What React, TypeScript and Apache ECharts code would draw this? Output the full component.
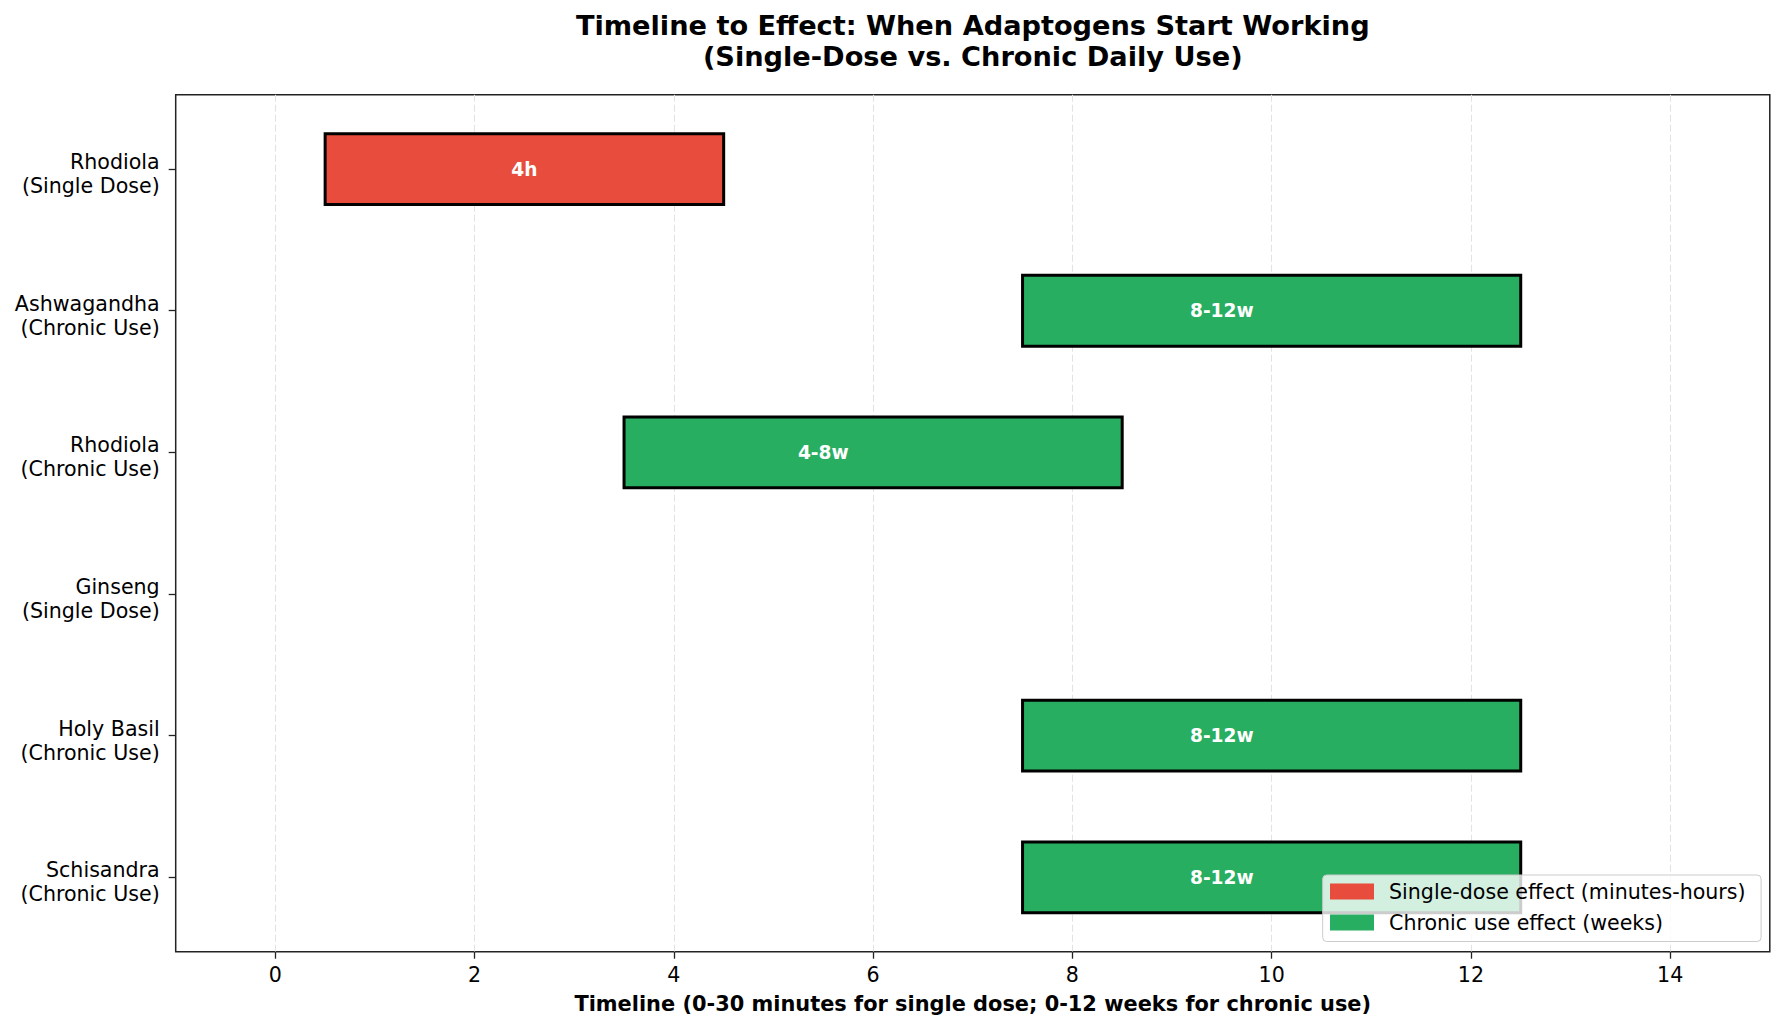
import React, { useEffect, useRef } from "react";
import * as echarts from "echarts";

// Rows, top to bottom
const herbs = [
  "Rhodiola\n(Single Dose)",
  "Ashwagandha\n(Chronic Use)",
  "Rhodiola\n(Chronic Use)",
  "Ginseng\n(Single Dose)",
  "Holy Basil\n(Chronic Use)",
  "Schisandra\n(Chronic Use)",
];
const useKind = ["single", "chronic", "chronic", "single", "chronic", "chronic"];
const onsetStart: (number | null)[] = [0.5, 7.5, 3.5, null, 7.5, 7.5];
const onsetEnd: (number | null)[] = [4.5, 12.5, 8.5, null, 12.5, 12.5];
const barLabels = ["4h", "8-12w", "4-8w", "", "8-12w", "8-12w"];
const labelAt: (number | null)[] = [2.5, 9.5, 5.5, null, 9.5, 9.5];
const xTicks = [0, 2, 4, 6, 8, 10, 12, 14];

const SINGLE_NAME = "Single-dose effect (minutes-hours)";
const CHRONIC_NAME = "Chronic use effect (weeks)";
const RED = "#E74C3C";
const GREEN = "#27AE60";
const FONT = "DejaVu Sans";
const BAR_HALF = 0.25;

function rowsFor(kind: string) {
  const rows: (number | string)[][] = [];
  herbs.forEach((_, i) => {
    const s = onsetStart[i];
    const e = onsetEnd[i];
    const l = labelAt[i];
    if (useKind[i] === kind && s !== null && e !== null && l !== null) {
      rows.push([i, s, e, l]);
    }
  });
  return rows;
}

function makeRender(color: string) {
  return (params: any, api: any) => {
    const y = api.value(0) as number;
    const s = api.value(1) as number;
    const e = api.value(2) as number;
    const l = api.value(3) as number;
    const a = api.coord([s, y - BAR_HALF]);
    const b = api.coord([e, y + BAR_HALF]);
    const c = api.coord([l, y]);
    const x0 = Math.min(a[0], b[0]);
    const y0 = Math.min(a[1], b[1]);
    const w = Math.abs(b[0] - a[0]);
    const h = Math.abs(b[1] - a[1]);
    return {
      type: "group",
      children: [
        {
          type: "rect",
          shape: { x: x0, y: y0, width: w, height: h },
          style: { fill: color, stroke: "#000000", lineWidth: 3 },
        },
        {
          type: "text",
          x: c[0],
          y: c[1],
          style: {
            text: barLabels[y],
            fill: "#ffffff",
            font: `bold 18.6px '${FONT}'`,
            align: "center",
            verticalAlign: "middle",
          },
        },
      ],
    };
  };
}

// Two-line row label; a thin spacer line on top lowers the block slightly
function rowLabel(v: number) {
  const name = herbs[Math.round(v)];
  if (!name) return "";
  const lines = name.split("\n").map((t) => `{t|${t}}`);
  return ["{gap| }", ...lines].join("\n");
}

export default function App() {
  const ref = useRef<HTMLDivElement>(null);

  useEffect(() => {
    if (!ref.current) return;
    const chart = echarts.init(ref.current, undefined, { renderer: "svg" });
    const gridLeft = 175.7;
    const gridRight = 1769.8;
    const gridTop = 94.7;
    const gridBottom = 951.7;

    chart.setOption({
      animation: false,
      backgroundColor: "#ffffff",
      textStyle: { fontFamily: FONT },
      graphic: [
        {
          type: "text",
          x: (gridLeft + gridRight) / 2,
          y: 40.5,
          style: {
            text: "Timeline to Effect: When Adaptogens Start Working\n(Single-Dose vs. Chronic Daily Use)",
            font: `bold 27.2px '${FONT}'`,
            fill: "#000000",
            align: "center",
            verticalAlign: "middle",
            lineHeight: 31,
          },
        },
      ],
      grid: {
        left: gridLeft,
        top: gridTop,
        width: gridRight - gridLeft,
        height: gridBottom - gridTop,
        show: true,
        borderColor: "#222222",
        borderWidth: 1.5,
        backgroundColor: "transparent",
      },
      legend: {
        orient: "vertical",
        left: 1322.7,
        top: 875,
        padding: [6, 15.5, 8.4, 7.3],
        itemWidth: 44,
        itemHeight: 16,
        itemGap: 10.1,
        icon: "rect",
        backgroundColor: "rgba(255,255,255,0.8)",
        borderColor: "#cccccc",
        borderWidth: 1,
        borderRadius: 4,
        textStyle: {
          fontFamily: FONT,
          fontSize: 20.6,
          color: "#000000",
          padding: [0, 0, 0, 10],
        },
        data: [
          { name: SINGLE_NAME, itemStyle: { color: RED } },
          { name: CHRONIC_NAME, itemStyle: { color: GREEN } },
        ],
      },
      xAxis: {
        type: "value",
        min: -1,
        max: 15,
        splitNumber: 8,
        axisLine: { show: false, onZero: false },
        axisTick: {
          show: true,
          customValues: xTicks,
          length: 7,
          lineStyle: { color: "#222222", width: 1.3 },
        },
        axisLabel: {
          customValues: xTicks,
          fontFamily: FONT,
          fontSize: 20.6,
          color: "#000000",
          margin: 13,
        },
        splitLine: {
          show: true,
          lineStyle: { color: "#e3e3e3", type: [7, 3], width: 1.1 },
        },
        name: "Timeline (0-30 minutes for single dose; 0-12 weeks for chronic use)",
        nameLocation: "middle",
        nameGap: 42,
        nameTextStyle: {
          fontFamily: FONT,
          fontSize: 20.9,
          fontWeight: "bold",
          color: "#000000",
        },
      },
      yAxis: {
        type: "value",
        inverse: true,
        min: -0.525,
        max: 5.525,
        axisLine: { show: false, onZero: false },
        splitLine: { show: false },
        axisTick: {
          show: true,
          customValues: herbs.map((_, i) => i),
          length: 7,
          lineStyle: { color: "#222222", width: 1.3 },
        },
        axisLabel: {
          customValues: herbs.map((_, i) => i),
          formatter: rowLabel,
          align: "right",
          margin: 16,
          rich: {
            gap: { fontSize: 1, lineHeight: 10 },
            t: {
              fontFamily: FONT,
              fontSize: 20.6,
              lineHeight: 24,
              color: "#000000",
              align: "right",
            },
          },
        },
      },
      series: [
        {
          name: SINGLE_NAME,
          type: "custom",
          itemStyle: { color: RED },
          encode: { x: [1, 2], y: 0 },
          renderItem: makeRender(RED),
          data: rowsFor("single"),
          z: 2,
        },
        {
          name: CHRONIC_NAME,
          type: "custom",
          itemStyle: { color: GREEN },
          encode: { x: [1, 2], y: 0 },
          renderItem: makeRender(GREEN),
          data: rowsFor("chronic"),
          z: 2,
        },
      ],
    });

    return () => chart.dispose();
  }, []);

  return (
    <div
      ref={ref}
      style={{ position: "fixed", left: 0, top: 0, width: 1784, height: 1030 }}
    />
  );
}
